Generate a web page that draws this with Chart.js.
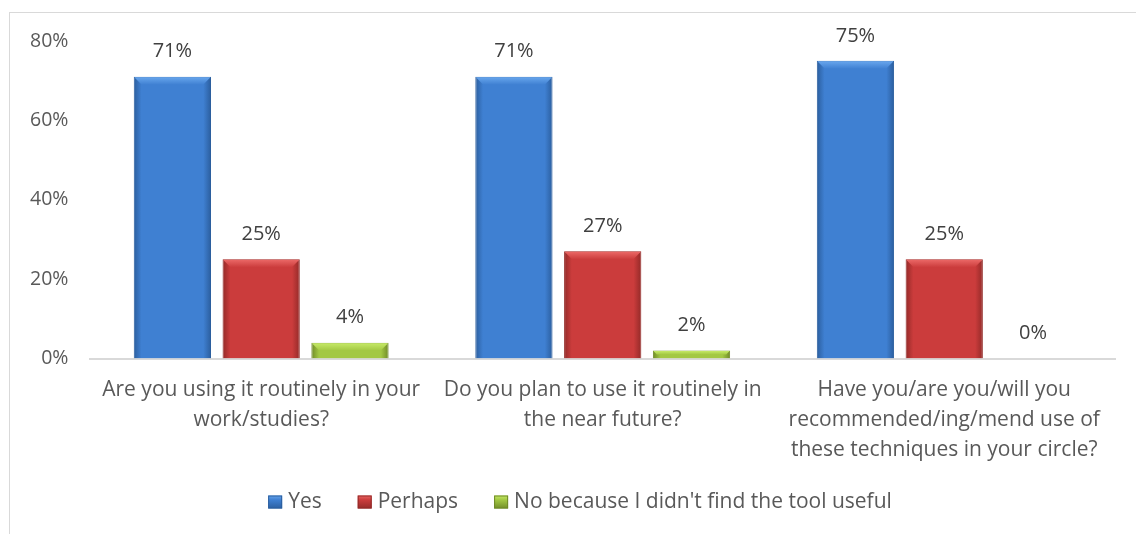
<!DOCTYPE html>
<html>
<head>
<meta charset="utf-8">
<script src="https://cdn.jsdelivr.net/npm/chart.js@4.4.1/dist/chart.umd.min.js"></script>
<style>
    html, body { margin: 0; padding: 0; background: #fff; }
    #wrap { position: relative; width: 1136px; height: 534px; overflow: hidden; }
    #frame {
        position: absolute; left: 9px; top: 12px; width: 1200px; height: 600px;
        border-top: 1px solid #d9d9d9; border-left: 1px solid #d9d9d9;
    }
    canvas { position: absolute; left: 0; top: 0; }
</style>
</head>
<body>
<div id="wrap">
    <div id="frame"></div>
    <canvas id="surveyChart" width="1136" height="534"></canvas>
</div>
<script>
const categories = [
    ['Are you using it routinely in your', 'work/studies?'],
    ['Do you plan to use it routinely in', 'the near future?'],
    ['Have you/are you/will you', 'recommended/ing/mend use of', 'these techniques in your circle?']
];
const seriesNames = ['Yes', 'Perhaps', "No because I didn't find the tool useful"];
const yesValues = [71, 71, 75];
const perhapsValues = [25, 27, 25];
const noValues = [4, 2, 0];
const yTicks = [0, 20, 40, 60, 80];

const FONT = '"Open Sans", sans-serif';

// light / mid / dark shade for each series
const shades = [
    ['#6aa8ee', '#3f80d2', '#2b5e9e'],
    ['#ec6a68', '#cb3c3c', '#932a28'],
    ['#c8ec6a', '#a3c843', '#6f8a27']
];

function barFill(series) {
    return function (context) {
        const chart = context.chart;
        const el = chart.getDatasetMeta(context.datasetIndex).data[context.dataIndex];
        if (!el || !isFinite(el.x) || !isFinite(el.y) || !el.width) return shades[series][1];
        const x0 = el.x - el.width / 2;
        const g = chart.ctx.createLinearGradient(x0, 0, x0 + el.width, 0);
        g.addColorStop(0, shades[series][2]);
        g.addColorStop(0.1, shades[series][1]);
        g.addColorStop(0.9, shades[series][1]);
        g.addColorStop(1, shades[series][2]);
        return g;
    };
}

// Value labels above bars, plus the light bevel at the top of each bar
const valueLabels = {
    id: 'valueLabels',
    afterDatasetsDraw(chart) {
        const ctx = chart.ctx;
        ctx.save();
        chart.data.datasets.forEach((ds, i) => {
            const meta = chart.getDatasetMeta(i);
            meta.data.forEach((bar, j) => {
                const h = bar.base - bar.y;
                if (h > 2) {
                    const bev = Math.min(8, h / 2);
                    const x0 = bar.x - bar.width / 2, x1 = bar.x + bar.width / 2;
                    const g = ctx.createLinearGradient(0, bar.y, 0, bar.y + bev);
                    g.addColorStop(0, shades[i][0]);
                    g.addColorStop(1, shades[i][1]);
                    ctx.fillStyle = g;
                    ctx.beginPath();
                    ctx.moveTo(x0 + 0.5, bar.y + 0.5);
                    ctx.lineTo(x1 - 0.5, bar.y + 0.5);
                    ctx.lineTo(x1 - bev, bar.y + bev);
                    ctx.lineTo(x0 + bev, bar.y + bev);
                    ctx.closePath();
                    ctx.fill();
                }
            });
        });
        ctx.font = '20px ' + FONT;
        ctx.fillStyle = '#404040';
        ctx.textAlign = 'center';
        ctx.textBaseline = 'middle';
        chart.data.datasets.forEach((ds, i) => {
            const meta = chart.getDatasetMeta(i);
            meta.data.forEach((bar, j) => {
                ctx.fillText(ds.data[j] + '%', bar.x, bar.y - 25);
            });
        });
        ctx.restore();
    }
};

// Legend drawn by hand so the marker/text spacing matches the original
const bottomLegend = {
    id: 'bottomLegend',
    afterDraw(chart) {
        const ctx = chart.ctx;
        const box = 14, gap = 6, itemGap = 36, cy = 502;
        ctx.save();
        ctx.font = '21px ' + FONT;
        ctx.textBaseline = 'middle';
        ctx.textAlign = 'left';
        const items = chart.data.datasets.map((ds, i) => ({ text: ds.label, i, w: ctx.measureText(ds.label).width }));
        const total = items.reduce((s, it) => s + box + gap + it.w, 0) + itemGap * (items.length - 1);
        let x = chart.width / 2 + 12 - total / 2;
        items.forEach(it => {
            const g = ctx.createLinearGradient(0, cy - box / 2, 0, cy + box / 2);
            g.addColorStop(0, shades[it.i][0]);
            g.addColorStop(0.35, shades[it.i][1]);
            g.addColorStop(1, shades[it.i][2]);
            ctx.fillStyle = g;
            ctx.fillRect(x, cy - box / 2 + 0.5, box, box - 1);
            ctx.strokeStyle = shades[it.i][2];
            ctx.lineWidth = 1;
            ctx.strokeRect(x + 0.5, cy - box / 2 + 1, box - 1, box - 2);
            x += box + gap;
            ctx.fillStyle = '#595959';
            ctx.fillText(it.text, x, cy);
            x += it.w + itemGap;
        });
        ctx.restore();
    }
};

const ctx = document.getElementById('surveyChart').getContext('2d');
const chart = new Chart(ctx, {
    type: 'bar',
    data: {
        labels: categories,
        datasets: [
            { label: seriesNames[0], data: yesValues, backgroundColor: barFill(0), borderColor: shades[0][2], borderWidth: 1 },
            { label: seriesNames[1], data: perhapsValues, backgroundColor: barFill(1), borderColor: shades[1][2], borderWidth: 1 },
            { label: seriesNames[2], data: noValues, backgroundColor: barFill(2), borderColor: shades[2][2], borderWidth: 1 }
        ]
    },
    options: {
        responsive: false,
        animation: false,
        categoryPercentage: 0.78,
        barPercentage: 0.87,
        layout: { padding: { left: 8, right: 21, top: 41, bottom: 52 } },
        plugins: {
            legend: { display: false },
            tooltip: { enabled: false }
        },
        scales: {
            x: {
                grid: { display: false, drawTicks: false },
                border: { color: '#d9d9d9', width: 2 },
                afterFit(scale) {
                    // long wrapped labels should not push the plot inward
                    scale.paddingLeft = 0;
                    scale.paddingRight = 0;
                },
                ticks: {
                    color: '#595959',
                    padding: 17,
                    maxRotation: 0,
                    font: { family: FONT, size: 21, lineHeight: 1.42 }
                }
            },
            y: {
                min: 0,
                max: 80,
                afterBuildTicks(axis) {
                    axis.ticks = yTicks.map(v => ({ value: v }));
                },
                grid: { display: false, drawTicks: false },
                border: { display: false },
                ticks: {
                    color: '#595959',
                    padding: 22,
                    font: { family: FONT, size: 19.5 },
                    callback: function (value) {
                        return value + '%';
                    }
                }
            }
        }
    },
    plugins: [valueLabels, bottomLegend]
});
// second pass so the gradients can use the laid-out bar positions
chart.update();
</script>
</body>
</html>
